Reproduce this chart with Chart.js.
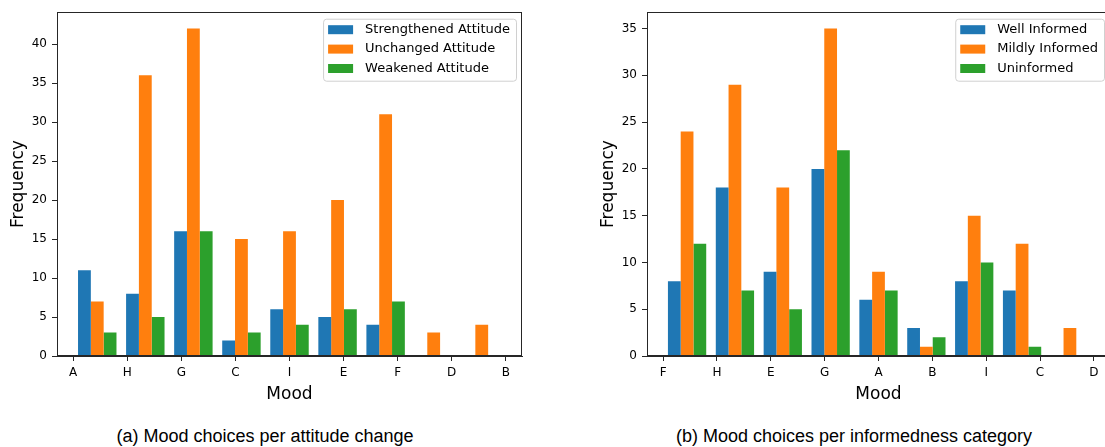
<!DOCTYPE html>
<html>
<head>
<meta charset="utf-8">
<script src="https://cdn.jsdelivr.net/npm/chart.js@4.4.0/dist/chart.umd.min.js"></script>
<style>
  body { margin: 0; background: #fff; }
  #page { position: relative; width: 1105px; height: 447px; overflow: hidden; background: #fff; }
  canvas { position: absolute; top: 0; }
  .cap {
    position: absolute; top: 426px; line-height: 20px;
    font-family: "Liberation Sans", Arial, sans-serif; font-size: 18px; color: #000;
    white-space: nowrap; transform: translateX(-50%);
  }
</style>
</head>
<body>
<div id="page">
  <canvas id="chartA" width="540" height="410" style="left:0"></canvas>
  <canvas id="chartB" width="538" height="410" style="left:590px"></canvas>
  <div class="cap" style="left:265px">(a) Mood choices per attitude change</div>
  <div class="cap" style="left:854px">(b) Mood choices per informedness category</div>
</div>
<script>
// (a) attitude change
const moodsA = ['A', 'H', 'G', 'C', 'I', 'E', 'F', 'D', 'B'];
const strengthened = [11, 8, 16, 2, 6, 5, 4, 0, 0];
const unchanged = [7, 36, 42, 15, 16, 20, 31, 3, 4];
const weakened = [3, 5, 16, 3, 4, 6, 7, 0, 0];

// (b) informedness
const moodsB = ['F', 'H', 'E', 'G', 'A', 'B', 'I', 'C', 'D'];
const wellInformed = [8, 18, 9, 20, 6, 3, 8, 7, 0];
const mildlyInformed = [24, 29, 18, 35, 9, 1, 15, 12, 3];
const uninformed = [12, 7, 5, 22, 7, 2, 10, 1, 0];

const colors = ['#1f77b4', '#ff7f0e', '#2ca02c'];
const tickFont = { family: 'DejaVu Sans', size: 12 };
const titleFont = { family: 'DejaVu Sans', size: 17 };
const ink = '#262626';

// spines on all four sides + matplotlib style legend
const mplFrame = {
  id: 'mplFrame',
  afterDraw(chart) {
    const { ctx, chartArea: a } = chart;
    ctx.save();
    ctx.strokeStyle = ink;
    ctx.lineWidth = 1;
    ctx.strokeRect(Math.round(a.left) + 0.5, Math.round(a.top) + 0.5,
      Math.round(a.right - a.left) - 1, Math.round(a.bottom - a.top) - 1);

    ctx.font = '13px "DejaVu Sans"';
    const sets = chart.data.datasets;
    const textW = Math.max(...sets.map(d => ctx.measureText(d.label).width));
    const w = 5 + 25 + 12 + textW + 6;
    const h = 62;
    const x0 = a.right - 6 - w, y0 = a.top + 6.5;
    ctx.beginPath();
    ctx.roundRect(x0 + 0.5, y0 + 0.5, w, h, 3);
    ctx.fillStyle = 'rgba(255,255,255,0.8)';
    ctx.fill();
    ctx.strokeStyle = '#d0d0d0';
    ctx.stroke();
    ctx.textBaseline = 'middle';
    sets.forEach((d, i) => {
      const y = y0 + 11 + i * 19.4;
      ctx.fillStyle = d.backgroundColor;
      ctx.fillRect(x0 + 5, y - 4.5, 25, 9);
      ctx.fillStyle = '#000';
      ctx.fillText(d.label, x0 + 42, y);
    });
    ctx.restore();
  }
};

function histChart(id, moods, labels, series) {
  const n = moods.length;
  const binW = (n - 1) / n;   // 9 bins spread over the tick range 0..n-1
  const yMax = Math.max(...series.flat()) * 1.05;
  new Chart(document.getElementById(id), {
    type: 'bar',
    data: {
      datasets: series.map((vals, k) => ({
        label: labels[k],
        data: vals.map((v, i) => ({ x: (i + 0.5) * binW, y: v })),
        backgroundColor: colors[k],
        borderWidth: 0,
        categoryPercentage: 0.8,
        barPercentage: 1.0
      }))
    },
    options: {
      responsive: false,
      animation: false,
      devicePixelRatio: 1,
      layout: { padding: { top: 11, right: 18, left: 0, bottom: 0 } },
      plugins: { legend: { display: false }, tooltip: { enabled: false } },
      scales: {
        x: {
          type: 'linear',
          min: -0.3,
          max: n - 1 + 0.3,
          offset: false,
          grid: { drawOnChartArea: false, drawTicks: true, tickLength: 5, color: ink, offset: false },
          border: { display: true, color: ink, width: 1 },
          ticks: {
            font: tickFont, color: '#000', padding: 5, autoSkip: false, maxRotation: 0,
            callback: v => moods[v]
          },
          afterBuildTicks: ax => { ax.ticks = moods.map((m, i) => ({ value: i })); },
          afterFit: ax => { ax.height = 54; },
          title: { display: true, text: 'Mood', font: titleFont, color: '#000', padding: { top: 0, bottom: 5 } }
        },
        y: {
          min: 0,
          max: yMax,
          offset: false,
          grid: { drawOnChartArea: false, drawTicks: true, tickLength: 5, color: ink },
          border: { display: true, color: ink, width: 1 },
          ticks: { font: tickFont, color: '#000', padding: 5, stepSize: 5, includeBounds: false },
          afterFit: ax => { ax.width = 57; },
          title: { display: true, text: 'Frequency', font: titleFont, color: '#000', padding: { top: 8, bottom: 0 } }
        }
      }
    },
    plugins: [mplFrame]
  });
}

histChart('chartA', moodsA, ['Strengthened Attitude', 'Unchanged Attitude', 'Weakened Attitude'],
  [strengthened, unchanged, weakened]);
histChart('chartB', moodsB, ['Well Informed', 'Mildly Informed', 'Uninformed'],
  [wellInformed, mildlyInformed, uninformed]);
</script>
</body>
</html>
